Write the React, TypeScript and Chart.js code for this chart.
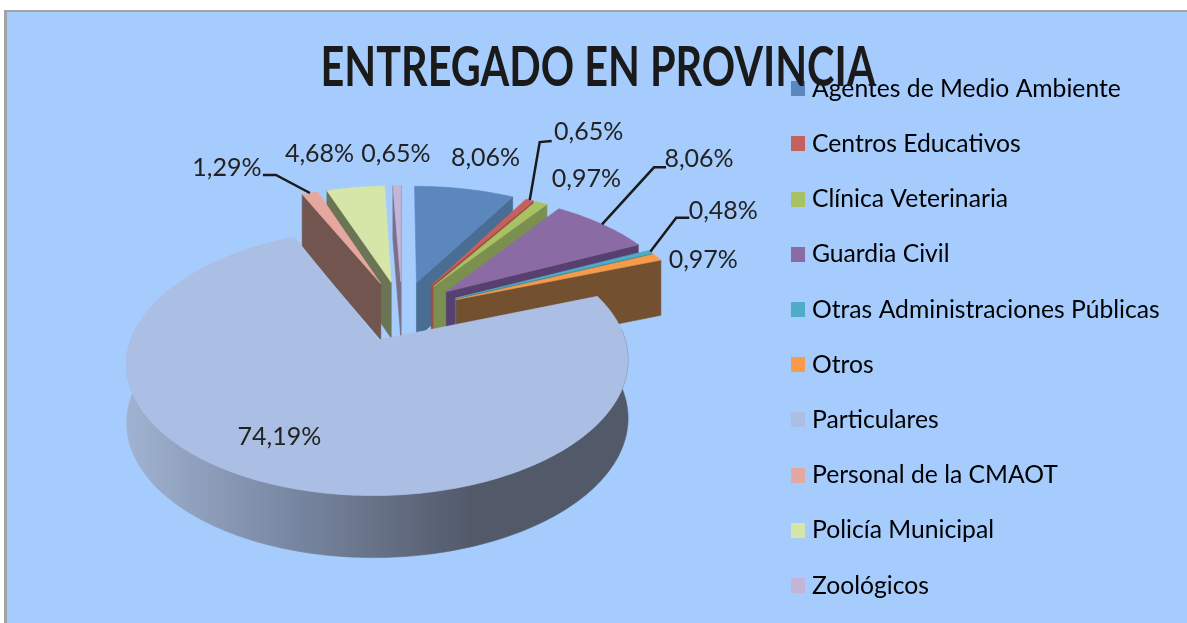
import React, { useEffect, useRef } from "react";
import { Chart, registerables } from "chart.js";

Chart.register(...registerables);

const categories = [
  "Agentes de Medio Ambiente",
  "Centros Educativos",
  "Clínica Veterinaria",
  "Guardia Civil",
  "Otras Administraciones Públicas",
  "Otros",
  "Particulares",
  "Personal de la CMAOT",
  "Policía Municipal",
  "Zoológicos",
];
const shares = [8.06, 0.65, 0.97, 8.06, 0.48, 0.97, 74.19, 1.29, 4.68, 0.65];
const shareLabels = ["8,06%", "0,65%", "0,97%", "8,06%", "0,48%", "0,97%", "74,19%", "1,29%", "4,68%", "0,65%"];
const faceColors = ["#5B87BD", "#C6605C", "#A8C163", "#8A6BA4", "#4FACC6", "#F79A4A", "#ABBEE3", "#E6A7A1", "#D6E5A8", "#C3B4D8"];
const wallColors = ["#4A6D93", "#9C4C49", "#7A8F50", "#57406F", "#3A7F92", "#735030", "#525A6A", "#72554F", "#6B7556", "#7A6F88"];

// label placement relative to the slice's projected rim midpoint
const labelOffsets: number[][] = [[21, -31], [59, -68], [45, -24], [97, -65], [73, -41], [46, 3], [18, -44], [-83, -25], [-36, -34], [-1, -32]];
const leaderBends: (number[][] | null)[] = [
  null,
  [[10, -58], [22, -59]],
  null,
  [[52, -57], [64, -57]],
  [[26, -34], [39, -34]],
  null,
  null,
  [[-34, -18], [-47, -18]],
  null,
  null,
];

const PIE_CX = 402;
const PIE_CY = 311;
const TILT = 0.505;
const PERSPECTIVE = 0.16;
const WALL = 56.8;
const RADIUS = 238;
const EXPLODE = 60;
const BG = "#A6CCFD";
const FONT = "Lato";
const TITLE_SQUEEZE = 0.739;
const TITLE_CX = 598;

function project(X: number, V: number) {
  const s = 1 / (1 - (PERSPECTIVE * V) / RADIUS);
  return { x: PIE_CX + X * s, y: PIE_CY + V * TILT * s, s };
}

function slicePoints(a0: number, a1: number) {
  const mid = (a0 + a1) / 2;
  const ox = EXPLODE * Math.cos(mid);
  const ov = EXPLODE * Math.sin(mid);
  const rim: { x: number; y: number; s: number; a: number }[] = [];
  const n = Math.max(2, Math.ceil(((a1 - a0) * 180) / Math.PI));
  for (let i = 0; i <= n; i++) {
    const a = a0 + ((a1 - a0) * i) / n;
    rim.push({ ...project(ox + RADIUS * Math.cos(a), ov + RADIUS * Math.sin(a)), a });
  }
  return { apex: project(ox, ov), rim, mid };
}

function poly(ctx: CanvasRenderingContext2D, pts: { x: number; y: number }[], fill: any) {
  ctx.beginPath();
  pts.forEach((p, i) => (i ? ctx.lineTo(p.x, p.y) : ctx.moveTo(p.x, p.y)));
  ctx.closePath();
  ctx.fillStyle = fill;
  ctx.strokeStyle = fill;
  ctx.lineWidth = 0.6;
  ctx.fill();
  ctx.stroke();
}

const down = (p: { x: number; y: number; s: number }) => ({ x: p.x, y: p.y + WALL * Math.pow(p.s, 0.4), s: p.s });

const pie3d = {
  id: "pie3d",
  beforeDraw(chart: any) {
    const { ctx, width, height } = chart;
    ctx.save();
    ctx.fillStyle = "#FFFFFF";
    ctx.fillRect(0, 0, width, height);
    ctx.fillStyle = "#A3A3A3";
    ctx.fillRect(4, 10, width - 4, height - 10);
    ctx.fillStyle = BG;
    ctx.fillRect(7, 12, width - 7, height - 12);
    ctx.restore();
  },
  afterLayout(chart: any) {
    const legend = chart.legend;
    const pad = legend.options.labels.padding;
    legend.left = 796.35 - pad;
    legend.right = legend.left + legend.width;
    legend.top = 76.4 - pad;
    legend.bottom = legend.top + legend.height;
    const title = chart.titleBlock;
    title.top = 62.5;
    title.bottom = 72.5;
    title.left = TITLE_CX - chart.width / 2;
    title.right = TITLE_CX + chart.width / 2;
    if (!title.__squeezed) {
      title.__squeezed = true;
      const drawTitle = title.draw;
      title.draw = function (...args: any[]) {
        const c = chart.ctx;
        c.save();
        c.translate(TITLE_CX, 0);
        c.scale(TITLE_SQUEEZE, 1);
        c.translate(-TITLE_CX, 0);
        drawTitle.apply(title, args);
        c.restore();
      };
    }
  },
  beforeDatasetDraw(chart: any) {
    const { ctx } = chart;
    const arcs = chart.getDatasetMeta(0).data;
    const order = arcs
      .map((arc: any, i: number) => ({ arc, i, v: Math.sin((arc.startAngle + arc.endAngle) / 2) }))
      .sort((p: any, q: any) => p.v - q.v);
    ctx.save();
    for (const { arc, i } of order) {
      const { apex, rim } = slicePoints(arc.startAngle, arc.endAngle);
      let wall: any = wallColors[i];
      if (arc.endAngle - arc.startAngle > Math.PI) {
        wall = ctx.createLinearGradient(128, 0, 628, 0);
        wall.addColorStop(0, "#A0B2D2");
        wall.addColorStop(0.344, "#76859F");
        wall.addColorStop(0.544, "#626C80");
        wall.addColorStop(0.684, "#525A6A");
        wall.addColorStop(1, "#525A6A");
      }
      const last = rim[rim.length - 1];
      if (-Math.cos(arc.startAngle) > 0) poly(ctx, [apex, rim[0], down(rim[0]), down(apex)], wall);
      if (Math.cos(arc.endAngle) > 0) poly(ctx, [apex, last, down(last), down(apex)], wall);
      const front = rim.filter((p) => Math.sin(p.a) > -0.1);
      if (front.length > 1) poly(ctx, [...front, ...front.map(down).reverse()], wall);
      poly(ctx, [apex, ...rim], faceColors[i]);
    }
    ctx.restore();
    return false;
  },
  afterDatasetsDraw(chart: any) {
    const { ctx } = chart;
    const arcs = chart.getDatasetMeta(0).data;
    ctx.save();
    ctx.font = `25px ${FONT}`;
    ctx.textAlign = "center";
    ctx.textBaseline = "middle";
    arcs.forEach((arc: any, i: number) => {
      const mid = (arc.startAngle + arc.endAngle) / 2;
      const reach = RADIUS + EXPLODE;
      const anchor = project(reach * Math.cos(mid), reach * Math.sin(mid));
      const bends = leaderBends[i];
      if (bends) {
        ctx.beginPath();
        ctx.moveTo(anchor.x, anchor.y);
        bends.forEach((b) => ctx.lineTo(anchor.x + b[0], anchor.y + b[1]));
        ctx.strokeStyle = "#1A1A1A";
        ctx.lineWidth = 2.5;
        ctx.stroke();
      }
      ctx.fillStyle = "#222222";
      ctx.fillText(shareLabels[i], anchor.x + labelOffsets[i][0], anchor.y + labelOffsets[i][1]);
    });
    ctx.restore();
  },
};

function swatch(color: string) {
  const c = document.createElement("canvas");
  c.width = 14;
  c.height = 15;
  const g = c.getContext("2d")!;
  g.fillStyle = color;
  g.fillRect(0, 0, 14, 15);
  return c;
}

export default function App() {
  const ref = useRef<HTMLCanvasElement>(null);
  useEffect(() => {
    const chart = new Chart(ref.current!, {
      type: "pie",
      data: {
        labels: categories,
        datasets: [
          {
            data: shares,
            backgroundColor: faceColors,
            radius: RADIUS,
            offset: EXPLODE,
            borderWidth: 0,
          } as any,
        ],
      },
      options: {
        responsive: false,
        animation: false,
        plugins: {
          tooltip: { enabled: false },
          title: {
            display: true,
            text: "ENTREGADO EN PROVINCIA",
            color: "#1A1A1A",
            padding: 0,
            font: { family: FONT, size: 56, weight: "bold", lineHeight: "10px" },
          },
          legend: {
            position: "right",
            align: "start",
            labels: {
              color: "#222222",
              font: { family: FONT, size: 24.7 },
              boxWidth: 3.3,
              boxHeight: 15,
              padding: 30.5,
              usePointStyle: true,
              pointStyleWidth: 3.3,
              generateLabels: () =>
                categories.map((text, i) => ({
                  text,
                  fillStyle: faceColors[i],
                  strokeStyle: faceColors[i],
                  lineWidth: 0,
                  pointStyle: swatch(faceColors[i]),
                  index: i,
                })),
            },
          },
        },
      } as any,
      plugins: [pie3d as any],
    });
    return () => chart.destroy();
  }, []);
  return (
    <div style={{ position: "fixed", left: 0, top: 0 }}>
      <canvas ref={ref} width={1187} height={623} style={{ display: "block" }} />
    </div>
  );
}
